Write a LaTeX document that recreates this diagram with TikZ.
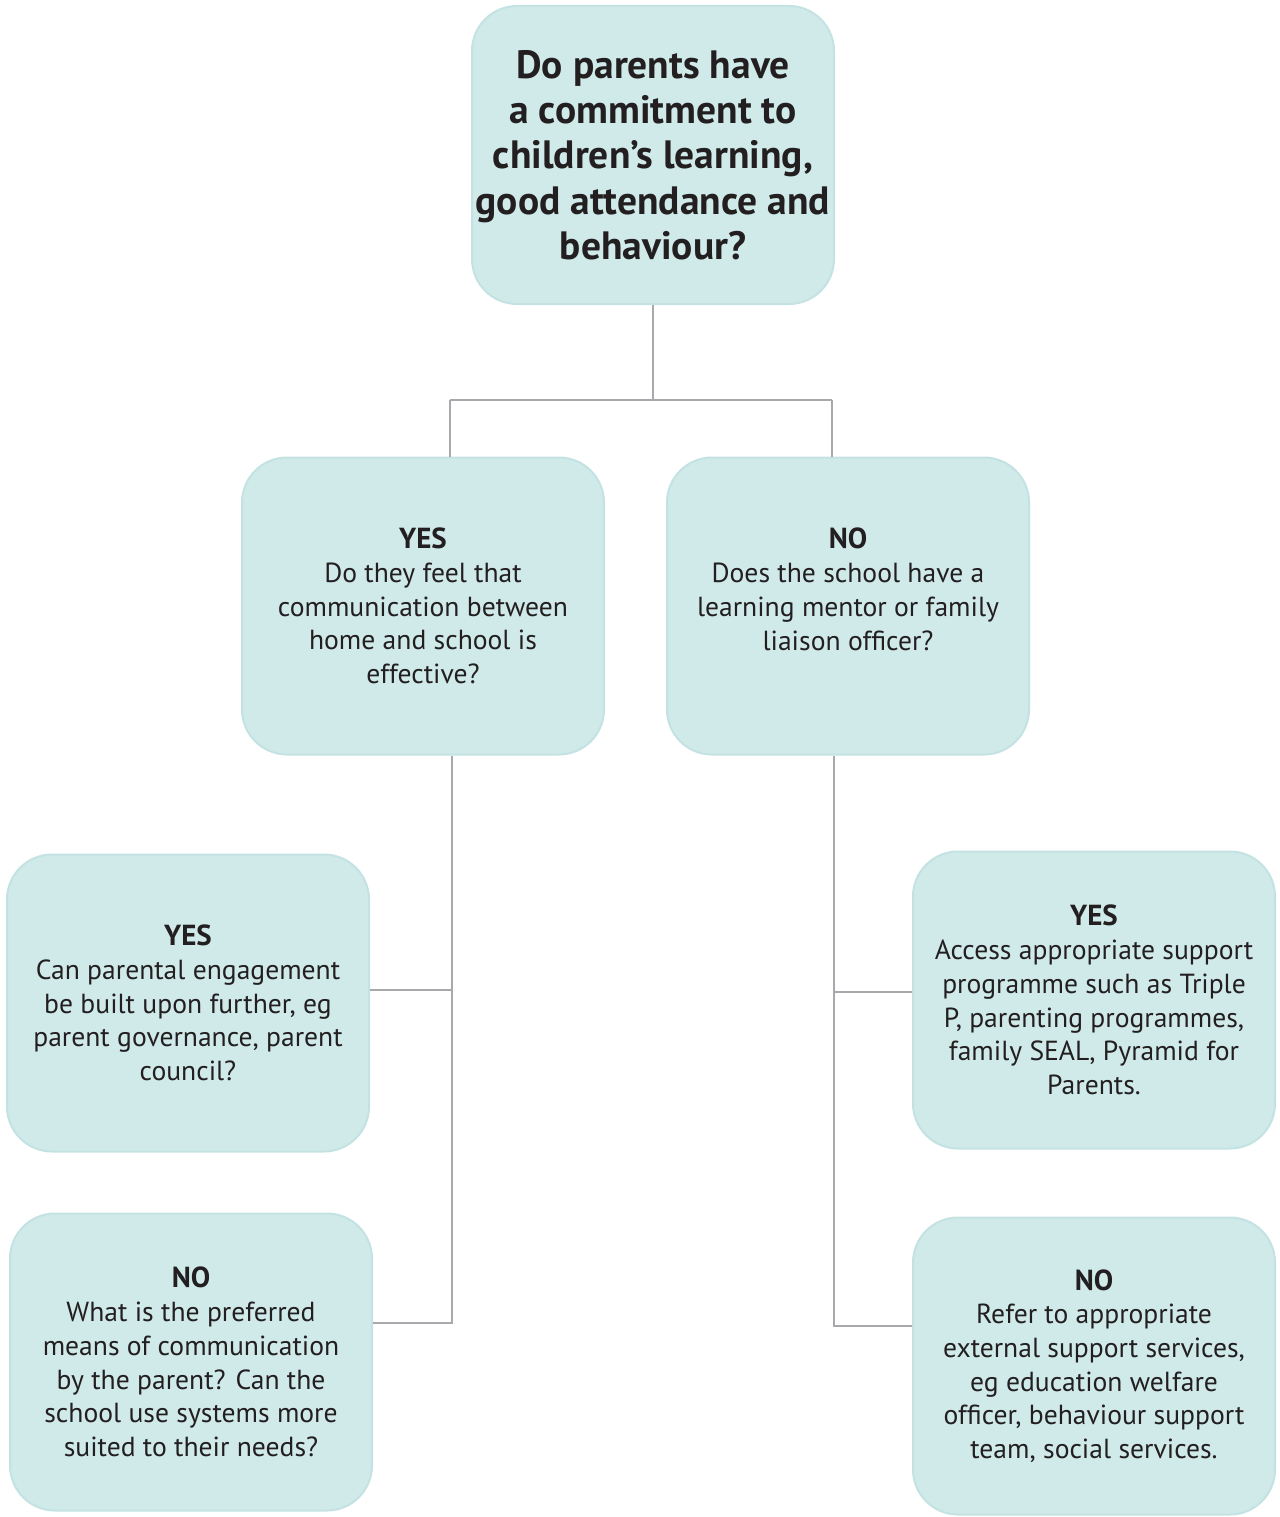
\documentclass[tikz,border=0pt]{standalone}
\usepackage{fontspec}
\setmainfont{PT Sans}
\definecolor{boxfill}{HTML}{D0EAEA}
\definecolor{boxline}{HTML}{C4E2E2}
\definecolor{connc}{HTML}{A7A9AC}
\definecolor{ink}{HTML}{231F20}
\newcommand{\hd}[1]{{\bfseries\fontsize{29}{33.7}\selectfont #1}}
\begin{document}
\begin{tikzpicture}[x=1pt,y=-1pt,
  box/.style={draw=boxline, fill=boxfill, line width=2pt, rounded corners=45pt,
    minimum width=362pt, minimum height=297pt, align=center, text=ink,
    font=\fontsize{27.6}{33.7}\selectfont, inner sep=0pt},
  topbox/.style={box, font=\bfseries\fontsize{39.5}{45.3}\selectfont, minimum height=298pt},
  conn/.style={draw=connc, line width=2.5pt}]
\useasboundingbox (0,0) rectangle (1279,1517);
\node[topbox] (q) at (653,155) {Do parents have\\a commitment to\\children’s learning,\\good attendance and\\behaviour?};
\node[box] (yes) at (423,606) {\hd{YES}\\Do they feel that\\communication between\\home and school is\\effective?};
\node[box] (no) at (848,606) {\hd{NO}\\Does the school have a\\learning mentor or family\\liaison officer?\\\mbox{}};
\node[box] (l1) at (188,1003) {\hd{YES}\\Can parental engagement\\be built upon further, eg\\parent governance, parent\\council?};
\node[box] (l2) at (191,1362) {\hd{NO}\\What is the preferred\\means of communication\\by the parent? Can the\\school use systems more\\suited to their needs?};
\node[box] (r1) at (1094,1000) {\hd{YES}\\Access appropriate support\\programme such as Triple\\P, parenting programmes,\\family SEAL, Pyramid for\\Parents.};
\node[box] (r2) at (1094,1366) {\hd{NO}\\Refer to appropriate\\external support services,\\eg education welfare\\officer, behaviour support\\team, social services.};
\coordinate (j) at (653,400);
\coordinate (jl) at (450,400);
\coordinate (jr) at (832,400);
\draw[conn] (q.south) -- (j);
\draw[conn] (jl) -- (jr);
\draw[conn] (jl) -- (jl |- yes.north);
\draw[conn] (jr) -- (jr |- no.north);
\coordinate (lb) at (452,1323);
\coordinate (lm) at (452,990);
\draw[conn] (lb |- yes.south) -- (lb) -- (lb -| l2.east);
\draw[conn] (lm) -- (lm -| l1.east);
\coordinate (rb) at (834,1326);
\coordinate (rm) at (834,992);
\draw[conn] (rb |- no.south) -- (rb) -- (rb -| r2.west);
\draw[conn] (rm) -- (rm -| r1.west);
\end{tikzpicture}
\end{document}
